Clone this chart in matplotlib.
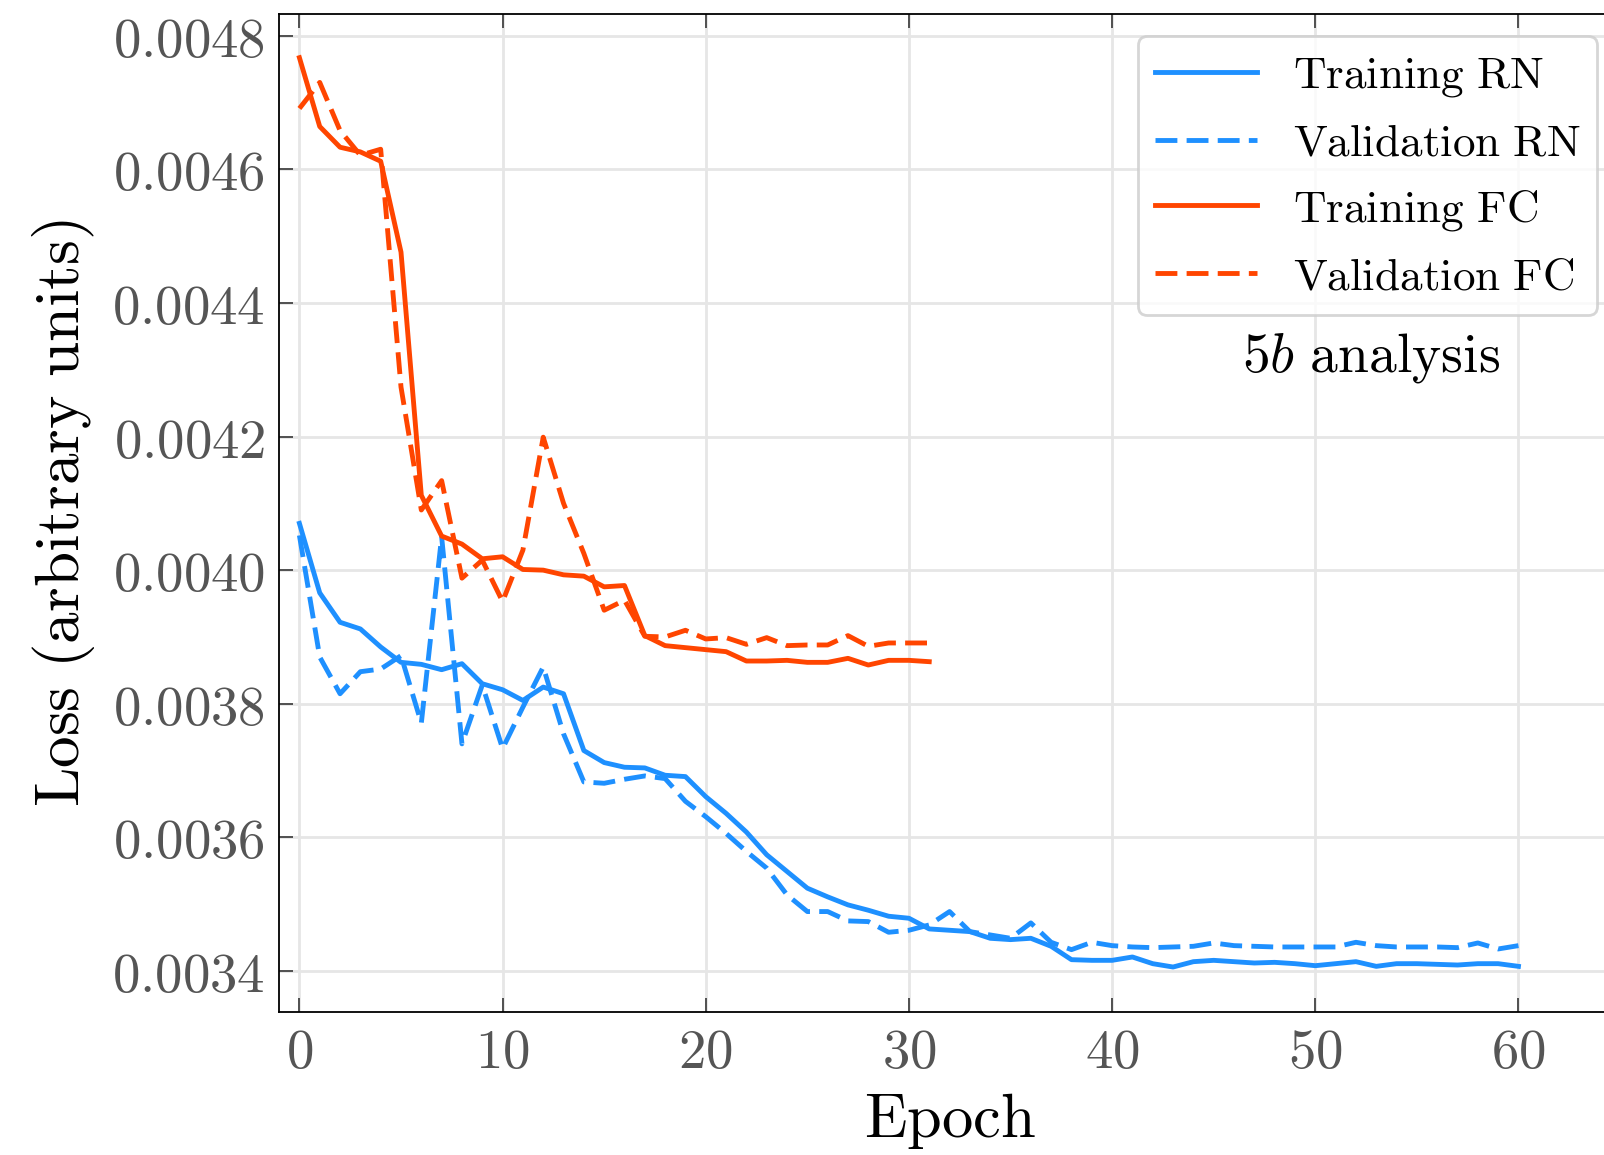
import matplotlib
matplotlib.use("Agg")
import matplotlib.pyplot as plt
from matplotlib.ticker import FuncFormatter
import numpy as np

plt.rcParams['mathtext.fontset'] = 'cm'

# Loss per epoch (RN: 61 epochs, FC: 32 epochs)
train_rn = [0.004070, 0.003966, 0.003922, 0.003912, 0.003885, 0.003862, 0.003859, 0.003851,
            0.003860, 0.003830, 0.003821, 0.003805, 0.003825, 0.003815, 0.003730, 0.003712,
            0.003705, 0.003704, 0.003693, 0.003691, 0.003661, 0.003636, 0.003608, 0.003574,
            0.003549, 0.003524, 0.003511, 0.003499, 0.003491, 0.003482, 0.003479, 0.003463,
            0.003461, 0.003459, 0.003449, 0.003447, 0.003449, 0.003437, 0.003417, 0.003416,
            0.003416, 0.003421, 0.003411, 0.003406, 0.003414, 0.003416, 0.003414, 0.003412,
            0.003413, 0.003411, 0.003408, 0.003411, 0.003414, 0.003407, 0.003411, 0.003411,
            0.003410, 0.003409, 0.003411, 0.003411, 0.003407]
val_rn = [0.004052, 0.003870, 0.003815, 0.003848, 0.003852, 0.003872, 0.003771, 0.004050,
          0.003740, 0.003828, 0.003733, 0.003795, 0.003855, 0.003755, 0.003683, 0.003681,
          0.003687, 0.003692, 0.003688, 0.003654, 0.003631, 0.003606, 0.003579, 0.003554,
          0.003514, 0.003489, 0.003489, 0.003475, 0.003474, 0.003458, 0.003461, 0.003469,
          0.003489, 0.003459, 0.003454, 0.003449, 0.003472, 0.003443, 0.003432, 0.003443,
          0.003438, 0.003436, 0.003435, 0.003436, 0.003437, 0.003442, 0.003438, 0.003437,
          0.003436, 0.003436, 0.003436, 0.003436, 0.003443, 0.003438, 0.003436, 0.003436,
          0.003436, 0.003435, 0.003442, 0.003433, 0.003438]
train_fc = [0.004767, 0.004664, 0.004633, 0.004626, 0.004612, 0.004476, 0.004112, 0.004051,
            0.004039, 0.004017, 0.004020, 0.004001, 0.004000, 0.003993, 0.003991, 0.003975,
            0.003977, 0.003902, 0.003887, 0.003884, 0.003881, 0.003878, 0.003864, 0.003864,
            0.003865, 0.003862, 0.003862, 0.003868, 0.003858, 0.003865, 0.003865, 0.003863]
val_fc = [0.004691, 0.004730, 0.004658, 0.004621, 0.004630, 0.004274, 0.004090, 0.004134,
          0.003988, 0.004015, 0.003953, 0.004030, 0.004199, 0.004100, 0.004025, 0.003940,
          0.003955, 0.003901, 0.003900, 0.003910, 0.003897, 0.003899, 0.003889, 0.003899,
          0.003887, 0.003888, 0.003888, 0.003902, 0.003886, 0.003891, 0.003891, 0.003891]

epochs_rn = np.arange(len(train_rn))
epochs_fc = np.arange(len(train_fc))

blue = '#1E90FF'
orange = '#FF4500'
lw = 3.5
dash = (4.5, 1.9)

fig = plt.figure(figsize=(16.04, 11.55), dpi=100)
ax = fig.add_axes([0.174, 0.124, 0.836, 0.864])

ax.plot(epochs_rn, train_rn, color=blue, lw=lw, label=r'$\mathrm{Training\ RN}$')
ax.plot(epochs_rn, val_rn, color=blue, lw=lw, ls='--', dashes=dash, label=r'$\mathrm{Validation\ RN}$')
ax.plot(epochs_fc, train_fc, color=orange, lw=lw, label=r'$\mathrm{Training\ FC}$')
ax.plot(epochs_fc, val_fc, color=orange, lw=lw, ls='--', dashes=dash, label=r'$\mathrm{Validation\ FC}$')

ax.set_xlim(-1, 65)
ax.set_ylim(0.003339, 0.0048326)
ax.set_xticks(np.arange(0, 61, 10))
ax.set_yticks(np.arange(0.0034, 0.00481, 0.0002))
ax.xaxis.set_major_formatter(FuncFormatter(lambda v, p: r'$%d$' % v))
ax.yaxis.set_major_formatter(FuncFormatter(lambda v, p: r'$%.4f$' % v))

ax.grid(True, color='#e6e6e6', lw=2.0)
ax.set_axisbelow(True)
ax.tick_params(direction='in', length=10, width=1.3, color='#444444', labelcolor='#555555',
               labelsize=39.5, top=True, right=True, pad=10)
for s in ax.spines.values():
    s.set_linewidth(1.3)

ax.set_xlabel(r'$\mathrm{Epoch}$', fontsize=45, labelpad=8)
ax.set_ylabel(r'$\mathrm{Loss\ (arbitrary\ units)}$', fontsize=45.5, labelpad=11)

leg = ax.legend(loc='upper right', fontsize=32.5, handlelength=2.25, handletextpad=0.8,
                borderaxespad=0.5, borderpad=0.38, labelspacing=0.5, fancybox=True,
                framealpha=0.8)
leg.get_frame().set_edgecolor('#cccccc')
leg.get_frame().set_linewidth(2.0)

ax.text(0.814, 0.655, r'$5b\ \mathrm{analysis}$', transform=ax.transAxes,
        fontsize=40, ha='center', va='center')

fig.savefig('out.png', dpi=100)
